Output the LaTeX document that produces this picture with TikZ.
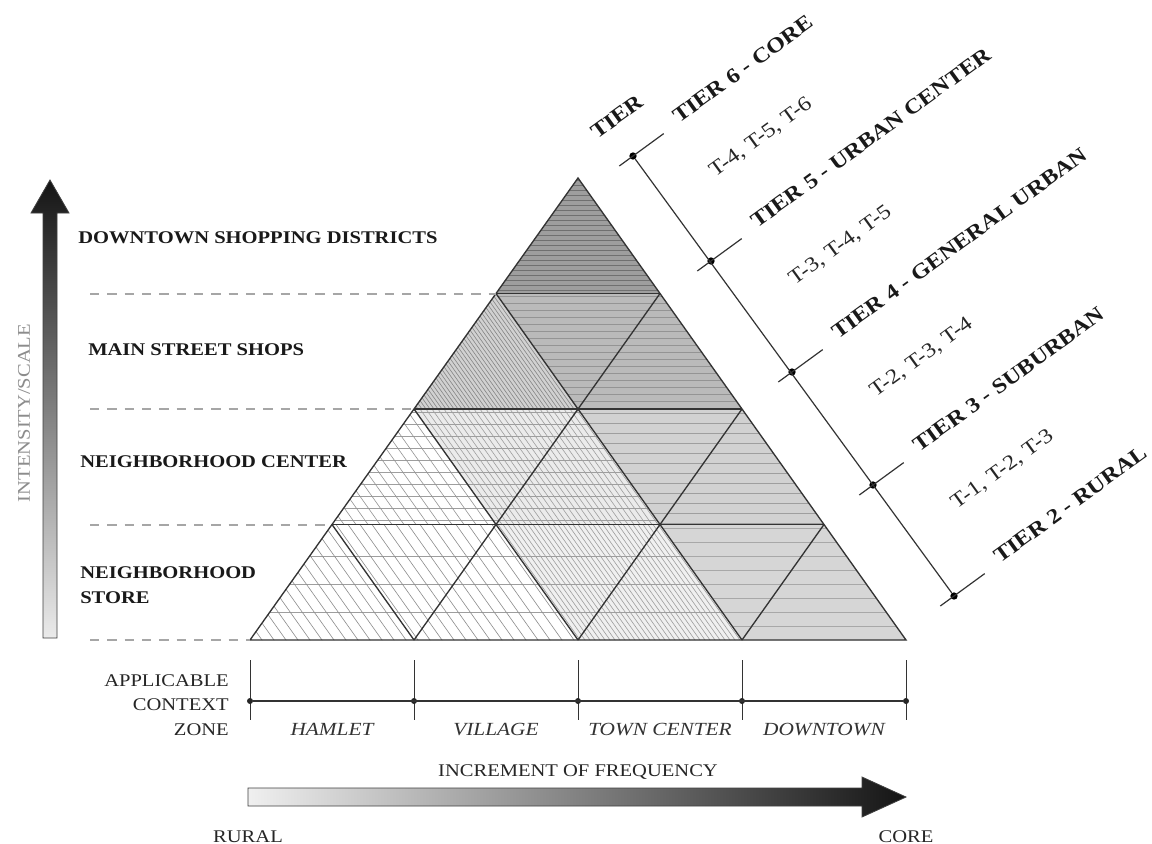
\documentclass[tikz,border=0pt]{standalone}
\usepackage{fontspec}
\setmainfont{Liberation Serif}[FakeStretch=1.15]
\usetikzlibrary{calc}
\newcommand\tricell[6]{%
  \begin{scope}
    \clip #1;
    \fill[#2] #1;
    \foreach \yy in {#3}{\draw[hatch,#4] (200,\yy) -- (960,\yy);}
    \foreach \cc in {#5}{\draw[hatch,#6] ({\cc-340.8},160) -- ({\cc+14.2},660);}
  \end{scope}}
\begin{document}
\begin{tikzpicture}[x=0.75pt,y=-0.75pt,
  lab/.style={font=\fontsize{13.4}{18.75}\selectfont\bfseries, text=black!90, inner sep=0pt, anchor=west},
  tierlab/.style={font=\fontsize{15.8}{19}\selectfont\bfseries, text=black!90, inner sep=0pt, anchor=base west, rotate=36},
  tlab/.style={font=\fontsize{15.6}{19}\selectfont, text=black!85, inner sep=0pt, anchor=base west, rotate=36},
  zone/.style={font=\fontsize{13.9}{16}\selectfont\itshape, text=black!80, inner sep=0pt},
  txt/.style={font=\fontsize{13.4}{18.4}\selectfont, text=black!85, inner sep=0pt},
  gridln/.style={draw=black!80, line width=1pt},
  rowln/.style={draw=black!80, line width=1.4pt},
  hatch/.style={line width=0.45pt},
  dashln/.style={draw=black!35, line width=1.5pt, dash pattern=on 7pt off 6pt},
  zaxis/.style={draw=black!80, line width=0.9pt},
  dotn/.style={circle, fill=black, inner sep=0pt, minimum size=5.5pt},
  zdot/.style={circle, fill=black!85, inner sep=0pt, minimum size=4.5pt},
]
\useasboundingbox (0,0) rectangle (1152,843);
\fill[white] (0,0) rectangle (1152,843);

% grid vertices
\coordinate (v00) at (250,640); \coordinate (v01) at (414,640); \coordinate (v02) at (578,640);
\coordinate (v03) at (742,640); \coordinate (v04) at (906,640);
\coordinate (v10) at (332,524.5); \coordinate (v11) at (496,524.5); \coordinate (v12) at (660,524.5); \coordinate (v13) at (824,524.5);
\coordinate (v20) at (414,409); \coordinate (v21) at (578,409); \coordinate (v22) at (742,409);
\coordinate (v30) at (496,293.5); \coordinate (v31) at (660,293.5);
\coordinate (v40) at (578,178);

% row 0
\tricell{(v00)--(v01)--(v10)--cycle}{white}{556,584,612}{black!38}{250,262,...,670}{black!45}
\tricell{(v01)--(v10)--(v11)--cycle}{white}{556,584,612}{black!38}{250,262,...,670}{black!45}
\tricell{(v01)--(v02)--(v11)--cycle}{white}{556,584,612}{black!38}{250,262,...,670}{black!45}
\tricell{(v02)--(v11)--(v12)--cycle}{black!6}{556,584,612}{black!38}{490,495,...,830}{black!38}
\tricell{(v02)--(v03)--(v12)--cycle}{black!6}{556,584,612}{black!38}{490,495,...,830}{black!38}
\tricell{(v03)--(v12)--(v13)--cycle}{black!16}{528,542,...,640}{black!34}{-500}{black}
\tricell{(v03)--(v04)--(v13)--cycle}{black!16}{528,542,...,640}{black!34}{-500}{black}
% row 1
\tricell{(v10)--(v11)--(v20)--cycle}{white}{412,424,...,524}{black!38}{330,342,...,670}{black!42}
\tricell{(v11)--(v20)--(v21)--cycle}{black!8}{412,424,...,524}{black!38}{410,416,...,830}{black!38}
\tricell{(v11)--(v12)--(v21)--cycle}{black!8}{412,424,...,524}{black!38}{410,416,...,830}{black!38}
\tricell{(v12)--(v21)--(v22)--cycle}{black!18}{413,423,...,524}{black!38}{-500}{black}
\tricell{(v12)--(v13)--(v22)--cycle}{black!18}{413,423,...,524}{black!38}{-500}{black}
% row 2
\tricell{(v20)--(v21)--(v30)--cycle}{black!18}{-50}{black}{410,414,...,830}{black!48}
\tricell{(v21)--(v30)--(v31)--cycle}{black!27}{296,303,...,409}{black!42}{-500}{black}
\tricell{(v21)--(v22)--(v31)--cycle}{black!27}{296,303,...,409}{black!42}{-500}{black}
% row 3
\tricell{(v30)--(v31)--(v40)--cycle}{black!38}{180,185,...,294}{black!56}{-500}{black}

% grid lines
\draw[gridln] (v00) -- (v04) -- (v40) -- cycle;
\draw[rowln] (v10) -- (v13);
\draw[rowln] (v20) -- (v22);
\draw[rowln] (v30) -- (v31);
\draw[gridln] (v01) -- (v31);
\draw[gridln] (v02) -- (v22);
\draw[gridln] (v03) -- (v13);
\draw[gridln] (v03) -- (v30);
\draw[gridln] (v02) -- (v20);
\draw[gridln] (v01) -- (v10);

% dashed level lines
\coordinate (dl0) at (90,640); \coordinate (dl1) at (90,524.5);
\coordinate (dl2) at (90,409); \coordinate (dl3) at (90,293.5);
\draw[dashln] (dl0) -- (v00);
\draw[dashln] (dl1) -- (v10);
\draw[dashln] (dl2) -- (v20);
\draw[dashln] (dl3) -- (v30);

% left labels
\node[lab] (l1) at (78,238) {DOWNTOWN SHOPPING DISTRICTS};
\node[lab] (l2) at (88,350) {MAIN STREET SHOPS};
\node[lab] (l3) at (80,462) {NEIGHBORHOOD CENTER};
\node[lab, align=left] (l4) at (80,585) {NEIGHBORHOOD\\STORE};

% vertical intensity arrow
\shade[bottom color=black!8, top color=black!92, draw=black!75, line width=0.6pt]
  (43,638) -- (43,213) -- (31,213) -- (50,180) -- (69,213) -- (57,213) -- (57,638) -- cycle;
\node[txt, text=black!45, rotate=90] (isc) at (24,413) {INTENSITY/SCALE};

% tier axis
\node[dotn] (d1) at (633,156) {};
\node[dotn] (d2) at (711,261) {};
\node[dotn] (d3) at (792,372) {};
\node[dotn] (d4) at (873,485) {};
\node[dotn] (d5) at (954,596) {};
\draw[zaxis] (d1) -- (d5);
\foreach \k in {1,...,5}{
  \coordinate (ta\k) at ($(d\k)+(-13.7,10)$);
  \coordinate (tb\k) at ($(d\k)+(30.7,-22.4)$);
  \draw[zaxis] (ta\k) -- (tb\k);
}
\node[tierlab] (tier) at ($(d1)+(-36,-16)$) {TIER};
\node[tierlab] (tier6) at ($(d1)+(46,-32)$) {TIER 6 - CORE};
\node[tierlab] (tier5) at ($(d2)+(46,-32)$) {TIER 5 - URBAN CENTER};
\node[tierlab] (tier4) at ($(d3)+(46,-32)$) {TIER 4 - GENERAL URBAN};
\node[tierlab] (tier3) at ($(d4)+(46,-32)$) {TIER 3 - SUBURBAN};
\node[tierlab] (tier2) at ($(d5)+(46,-32)$) {TIER 2 - RURAL};
\node[tlab] (t456) at ($(d1)!0.5!(d2)+(43,-31)$) {T-4, T-5, T-6};
\node[tlab] (t345) at ($(d2)!0.5!(d3)+(43,-31)$) {T-3, T-4, T-5};
\node[tlab] (t234) at ($(d3)!0.5!(d4)+(43,-31)$) {T-2, T-3, T-4};
\node[tlab] (t123) at ($(d4)!0.5!(d5)+(43,-31)$) {T-1, T-2, T-3};

% context zone axis
\foreach \x [count=\i from 0] in {250,414,578,742,906}{
  \coordinate (za\i) at (\x,660);
  \coordinate (zb\i) at (\x,720);
  \draw[zaxis, line width=0.7pt] (za\i) -- (zb\i);
  \node[zdot] (zd\i) at (\x,701) {};
}
\draw[zaxis] (zd0) -- (zd4);
\node[txt, align=right, anchor=east] (acz) at (229,705) {APPLICABLE\\CONTEXT\\ZONE};
\node[zone] (hamlet) at (332,729) {HAMLET};
\node[zone] (village) at (496,729) {VILLAGE};
\node[zone] (town) at (660,729) {TOWN CENTER};
\node[zone] (downtown) at (824,729) {DOWNTOWN};

% frequency arrow
\node[txt] (inc) at (578,772) {INCREMENT OF FREQUENCY};
\shade[left color=black!6, right color=black!92, draw=black!75, line width=0.6pt]
  (248,788) -- (862,788) -- (862,777) -- (906,797) -- (862,817) -- (862,806) -- (248,806) -- cycle;
\node[txt] (rural) at (248,837) {RURAL};
\node[txt] (core) at (906,837) {CORE};
\end{tikzpicture}
\end{document}
